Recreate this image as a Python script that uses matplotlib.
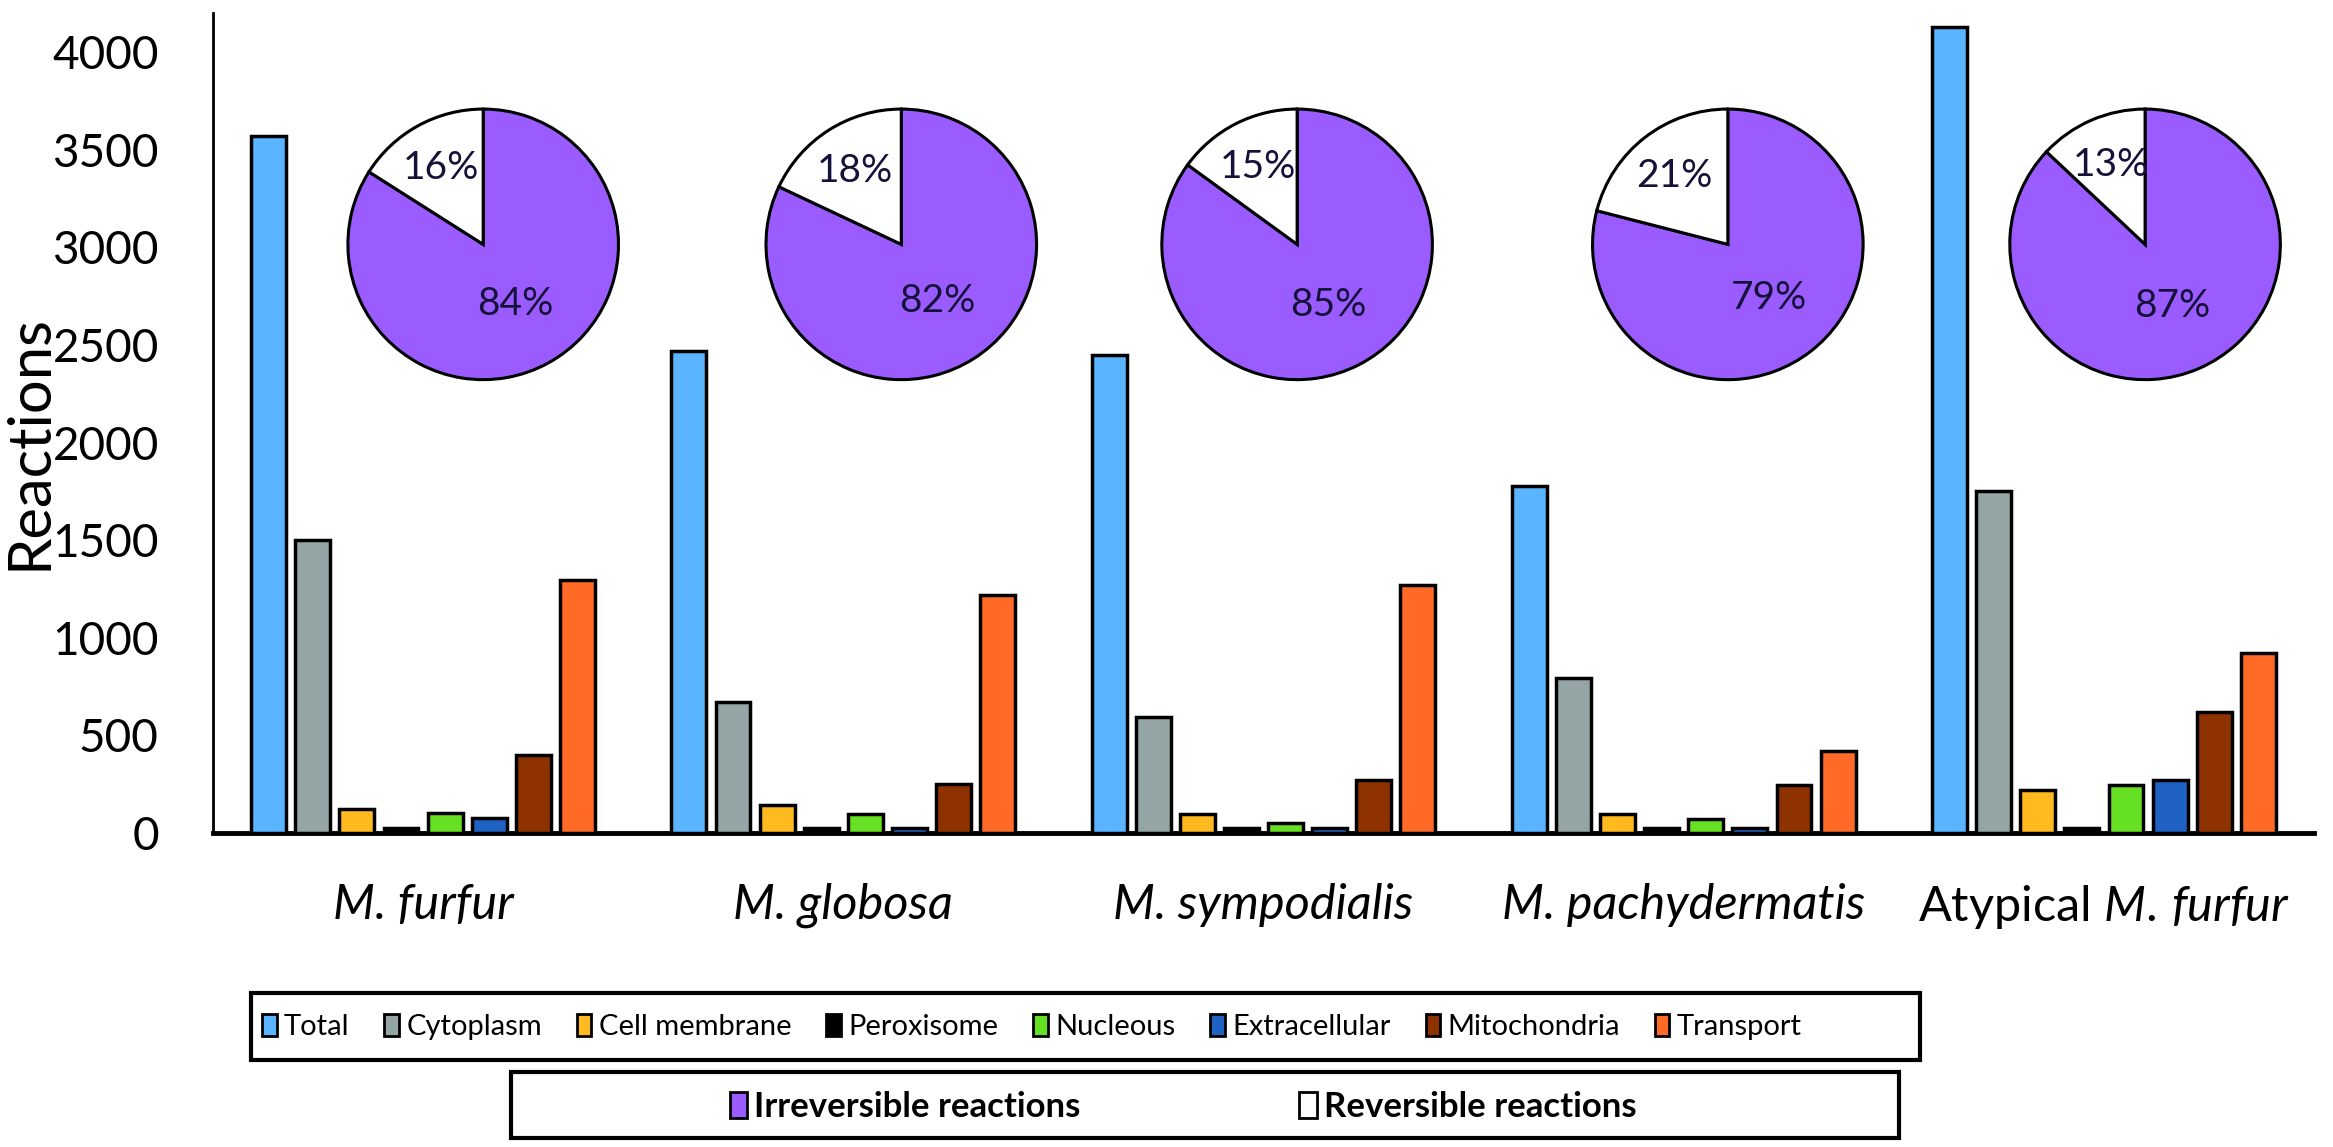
import numpy as np
import matplotlib.pyplot as plt
from matplotlib.patches import Rectangle

plt.rcParams['font.family'] = ['Lato', 'DejaVu Sans']
plt.rcParams['mathtext.fontset'] = 'custom'
plt.rcParams['mathtext.rm'] = 'Lato'
plt.rcParams['mathtext.it'] = 'Lato:italic'

# Datos
species = ["M. furfur", "M. globosa", "M. sympodialis", "M. pachydermatis", "Atypical M. furfur"]
compartments = ["Total", "Cytoplasm", "Cell membrane", "Peroxisome",
                "Nucleous", "Extracellular", "Mitochondria", "Transport"]
total = [3570, 2470, 2450, 1775, 4130]
cytoplasm = [1500, 670, 595, 795, 1750]
cell_membrane = [125, 145, 95, 95, 220]
peroxisome = [25, 25, 25, 25, 25]
nucleous = [100, 95, 50, 70, 245]
extracellular = [75, 25, 25, 25, 270]
mitochondria = [400, 250, 270, 245, 620]
transport = [1295, 1220, 1270, 420, 920]
irreversible = [84, 82, 85, 79, 87]
reversible = [16, 18, 15, 21, 13]
yticks = [0, 500, 1000, 1500, 2000, 2500, 3000, 3500, 4000]

series = [total, cytoplasm, cell_membrane, peroxisome, nucleous, extracellular, mitochondria, transport]
colors = ["#5AB4FF", "#95A5A6", "#FFBA1F", "#000000", "#66E022", "#1F62C4", "#8E3300", "#FF6A26"]
purple = "#9B5CFF"

W, H = 2333, 1147
fig = plt.figure(figsize=(W / 100, H / 100), dpi=100)
ax = fig.add_axes([213 / W, 1 - 833 / H, (2314 - 213) / W, (833 - 13) / H])

x = np.arange(len(species))
pitch, width = 0.105, 0.083
for i, (vals, c) in enumerate(zip(series, colors)):
    ax.bar(x + (i - 3.5) * pitch, vals, width, color=c, edgecolor="black", linewidth=2.5, zorder=3)

ax.set_xlim(-0.5, 4.5)
ax.set_ylim(0, 4200)
ax.set_yticks(yticks)
ax.tick_params(axis="y", length=0, pad=39, labelsize=33)

# nombres de especie en cursiva; "Atypical" en redonda
xlabels = [s if not s.startswith("Atypical") else r"Atypical $\mathit{M.\,furfur}$"
           for s in species]
ax.set_xticks(x)
ax.set_xticklabels(xlabels)
for t, s in zip(ax.get_xticklabels(), species):
    if not s.startswith("Atypical"):
        t.set_fontstyle("italic")
ax.tick_params(axis="x", length=0, pad=36, labelsize=35)
for s in ["top", "right"]:
    ax.spines[s].set_visible(False)
ax.spines["left"].set_linewidth(2)
ax.spines["bottom"].set_linewidth(3.5)
ax.set_ylabel("Reactions", fontsize=43)
ax.yaxis.set_label_coords(-0.0745, 0.477)

# Tortas de reacciones irreversibles / reversibles
pie_dx = [0.143, 0.138, 0.08, 0.105, 0.098]
pie_y = 3015
r_px = 138
for k in range(len(species)):
    cx, cy = fig.transFigure.inverted().transform(ax.transData.transform((x[k] + pie_dx[k], pie_y)))
    pax = fig.add_axes([cx - r_px / W, cy - r_px / H, 2 * r_px / W, 2 * r_px / H])
    wedges, _ = pax.pie([irreversible[k], reversible[k]], colors=[purple, "white"], startangle=90,
                        counterclock=False, radius=1,
                        wedgeprops=dict(edgecolor="black", linewidth=2.2))
    for w, v, d in zip(wedges, [irreversible[k], reversible[k]], [0.5, 0.64]):
        th = np.deg2rad((w.theta1 + w.theta2) / 2)
        pax.text(d * np.cos(th), d * np.sin(th), f"{v}%", ha="center", va="center",
                 fontsize=28, color="#15123a")
    pax.set_xlim(-1.02, 1.02)
    pax.set_ylim(-1.02, 1.02)
    pax.set_aspect("equal")
    pax.axis("off")

# Leyendas con recuadro
handles1 = [Rectangle((0, 0), 1, 1, facecolor=c, edgecolor="black", linewidth=2) for c in colors]
fig.legend(handles1, compartments, ncol=8, loc="center left",
           bbox_to_anchor=(262 / W, 1 - 1027 / H), frameon=False, fontsize=21,
           handlelength=0.5, handleheight=0.8, handletextpad=0.25, columnspacing=1.2,
           borderpad=0, borderaxespad=0)
handles2 = [Rectangle((0, 0), 1, 1, facecolor=purple, edgecolor="black", linewidth=2),
            Rectangle((0, 0), 1, 1, facecolor="white", edgecolor="black", linewidth=2)]
fig.legend(handles2, ["Irreversible reactions", "Reversible reactions"], ncol=2,
           loc="center left", bbox_to_anchor=(730 / W, 1 - 1107 / H), frameon=False,
           prop=dict(size=25, weight="bold"), handlelength=0.5, handleheight=0.8,
           handletextpad=0.2, columnspacing=6.3, borderpad=0, borderaxespad=0)
fig.patches.append(Rectangle((251 / W, 1 - 1060 / H), (1920 - 251) / W, 67 / H,
                             transform=fig.transFigure, fill=False, edgecolor="black", linewidth=3))
fig.patches.append(Rectangle((511 / W, 1 - 1138 / H), (1899 - 511) / W, 66 / H,
                             transform=fig.transFigure, fill=False, edgecolor="black", linewidth=3))

fig.savefig("out.png", dpi=100)
